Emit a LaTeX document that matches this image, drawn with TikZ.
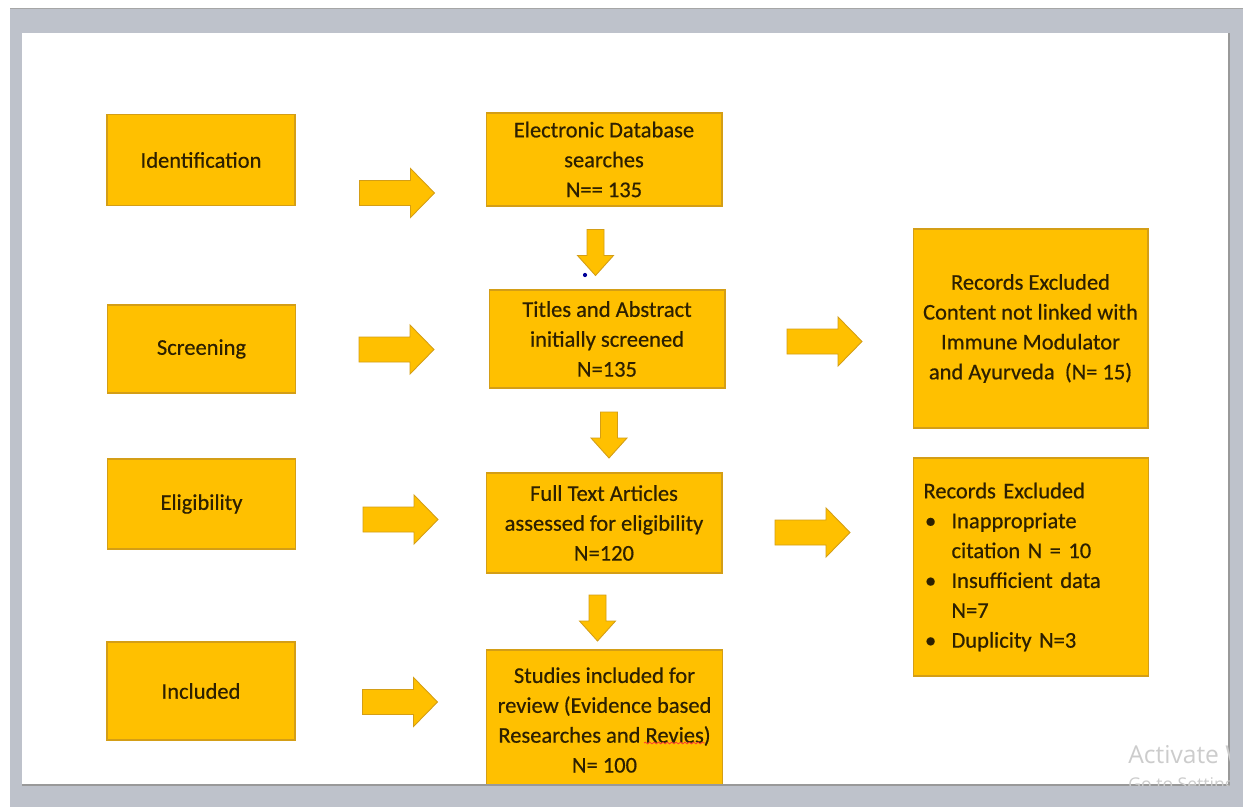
\documentclass[tikz,border=0pt]{standalone}
\usepackage{fontspec}
\setmainfont{Carlito}
\newfontfamily\boxfont{Carlito}[FakeBold=0.5]
\newfontfamily\winfont{Open Sans}
\usepackage{tikz}
\usetikzlibrary{decorations.pathmorphing}
\definecolor{caixa}{RGB}{255,192,0}
\definecolor{borda}{RGB}{212,158,22}
\definecolor{texto}{RGB}{45,32,0}
\definecolor{moldura}{RGB}{190,194,203}
\newcommand{\bul}{\makebox[0.56cm][l]{\hspace{0.03cm}\textbullet}}

\begin{document}
\begin{tikzpicture}[x=0.02cm, y=-0.02cm,
    box/.style={draw=borda, line width=0.6pt, fill=caixa, text=texto, align=center,
        font=\boxfont\fontsize{12.8}{17}\selectfont, inner sep=2pt},
    stagebox/.style={box, minimum width=3.76cm},
    flowbox/.style={box, minimum width=4.72cm},
    exclbox/.style={box, minimum width=4.7cm},
    blockarrow/.style={draw=borda, line width=0.5pt, fill=caixa, line join=miter}]
    \useasboundingbox (0,0) rectangle (1243,807);
    % screen frame and page
    \fill[moldura] (10,8) rectangle (1243,807);
    \draw[gray!70] (10,8.5) -- (1243,8.5);
    \fill[white] (22,33) rectangle (1229,785);
    % stages
    \node[stagebox, minimum height=1.82cm] (ident) at (201,160) {Identification};
    \node[stagebox, minimum height=1.76cm] (screen) at (201.5,349) {Screening};
    \node[stagebox, minimum height=1.80cm] (elig) at (201.5,504) {Eligibility};
    \node[stagebox, minimum height=1.96cm] (incl) at (201,691) {Included};
    % main flow
    \node[flowbox, minimum height=1.86cm] (search) at (604,159.5) {Electronic Database\\searches\\N== 135};
    \node[flowbox, minimum height=1.96cm] (titles) at (607,339) {Titles and Abstract\\initially screened\\N=135};
    \node[flowbox, minimum height=2cm] (fulltext) at (604,523) {Full Text Articles\\assessed for eligibility\\N=120};
    \node[flowbox, minimum height=2.8cm] (studies) at (604.5,720) {Studies included for\\review (Evidence based\\Researches and Revies)\\N= 100};
    \draw[red!80, line width=0.4pt, decorate, decoration={snake, amplitude=0.5pt, segment length=2.5pt}]
        (644,743) -- (705,743);
    \fill[blue!60!black] (585,275) circle (1.2pt);
    % exclusions
    \node[exclbox, minimum height=3.98cm] (excl1) at (1030.5,328.5) {Records Excluded\\Content not linked with\\Immune Modulator\\and Ayurveda~ (N= 15)};
    \node[exclbox, minimum height=4.36cm, align=left, text width=4.3cm, inner xsep=0.2cm] (excl2) at (1031,567) {Records Excluded\\
        \bul Inappropriate\\
        \hspace*{0.56cm}citation N = 10\\
        \bul Insufficient data\\
        \hspace*{0.56cm}N=7\\
        \bul Duplicity N=3};
    % block arrows
    \foreach \cx/\cy in {397/193, 396.5/349.5, 400.5/519.5, 400/702, 824.5/341.5, 812.5/532.5}
        \draw[blockarrow, shift={(\cx,\cy)}] (-37.5,-12.5) -- (13.5,-12.5) -- (13.5,-24.5)
            -- (37.5,0) -- (13.5,24.5) -- (13.5,12.5) -- (-37.5,12.5) -- cycle;
    \foreach \cx/\cy in {595.5/252.5, 609/435, 597.5/618}
        \draw[blockarrow, shift={(\cx,\cy)}] (-8.5,-23) -- (-8.5,3) -- (-18,3)
            -- (0,23) -- (18,3) -- (8.5,3) -- (8.5,-23) -- cycle;
    % the page ends over the last box
    \fill[moldura] (10,785) rectangle (1243,807);
    \draw[gray!80, line width=0.8pt] (22,785) -- (1229,785) -- (1229,33);
    \begin{scope}
        \clip (22,33) rectangle (1229,785);
        \node[anchor=base west, inner sep=0, text=gray!40, font=\winfont\fontsize{14}{16}\selectfont] (activate) at (1128,763) {Activate Windows};
        \node[anchor=base west, inner sep=0, text=gray!40, font=\winfont\fontsize{10}{12}\selectfont] (settings) at (1128,790) {Go to Settings};
    \end{scope}
\end{tikzpicture}
\end{document}
